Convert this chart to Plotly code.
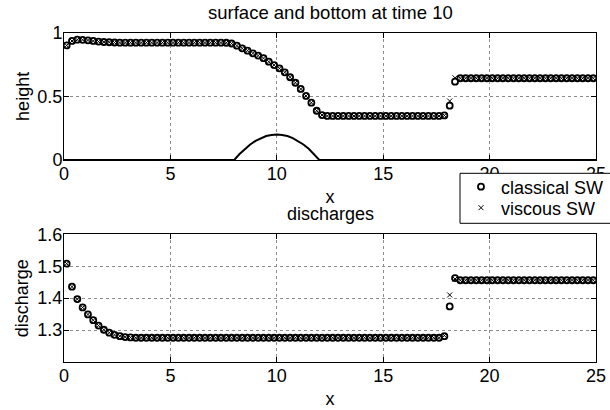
import numpy as np
import plotly.graph_objects as go

# cell centres of the 100-cell mesh on [0, 25]
n_cells = 100
dx = 0.25
x_cells = (np.arange(n_cells) + 0.5) * dx

# free-surface height at t = 10
height_classical = [
    0.900, 0.935, 0.945, 0.944, 0.940, 0.935, 0.930, 0.927, 0.925, 0.923,
    0.922, 0.922, 0.922, 0.922, 0.922, 0.922, 0.922, 0.922, 0.922, 0.922,
    0.922, 0.922, 0.922, 0.922, 0.922, 0.922, 0.922, 0.922, 0.922, 0.922,
    0.921, 0.915, 0.898, 0.877, 0.859, 0.838, 0.820, 0.800, 0.772, 0.746,
    0.720, 0.689, 0.650, 0.607, 0.558, 0.503, 0.450, 0.387, 0.353, 0.346,
    0.346, 0.346, 0.346, 0.346, 0.346, 0.346, 0.346, 0.346, 0.346, 0.346,
    0.346, 0.346, 0.346, 0.346, 0.346, 0.346, 0.346, 0.346, 0.346, 0.346,
    0.346, 0.350, 0.427, 0.615, 0.642, 0.642, 0.642, 0.642, 0.642, 0.642,
    0.642, 0.642, 0.642, 0.642, 0.642, 0.642, 0.642, 0.642, 0.642, 0.642,
    0.642, 0.642, 0.642, 0.642, 0.642, 0.642, 0.642, 0.642, 0.642, 0.642,
]
height_viscous = [
    0.900, 0.935, 0.945, 0.944, 0.940, 0.935, 0.930, 0.927, 0.925, 0.923,
    0.922, 0.922, 0.922, 0.922, 0.922, 0.922, 0.922, 0.922, 0.922, 0.922,
    0.922, 0.922, 0.922, 0.922, 0.922, 0.922, 0.922, 0.922, 0.922, 0.922,
    0.921, 0.915, 0.898, 0.877, 0.859, 0.838, 0.820, 0.800, 0.772, 0.746,
    0.720, 0.689, 0.650, 0.607, 0.558, 0.503, 0.450, 0.387, 0.353, 0.346,
    0.346, 0.346, 0.346, 0.346, 0.346, 0.346, 0.346, 0.346, 0.346, 0.346,
    0.346, 0.346, 0.346, 0.346, 0.346, 0.346, 0.346, 0.346, 0.346, 0.346,
    0.346, 0.350, 0.463, 0.645, 0.642, 0.642, 0.642, 0.642, 0.642, 0.642,
    0.642, 0.642, 0.642, 0.642, 0.642, 0.642, 0.642, 0.642, 0.642, 0.642,
    0.642, 0.642, 0.642, 0.642, 0.642, 0.642, 0.642, 0.642, 0.642, 0.642,
]

# discharge at t = 10
discharge_classical = [
    1.508, 1.436, 1.397, 1.371, 1.349, 1.331, 1.314, 1.301, 1.292, 1.285,
    1.281, 1.278, 1.277, 1.276, 1.276, 1.276, 1.276, 1.276, 1.276, 1.276,
    1.276, 1.276, 1.276, 1.276, 1.276, 1.276, 1.276, 1.276, 1.276, 1.276,
    1.276, 1.276, 1.276, 1.276, 1.276, 1.276, 1.276, 1.276, 1.276, 1.276,
    1.276, 1.276, 1.276, 1.276, 1.276, 1.276, 1.276, 1.276, 1.276, 1.276,
    1.276, 1.276, 1.276, 1.276, 1.276, 1.276, 1.276, 1.276, 1.276, 1.276,
    1.276, 1.276, 1.276, 1.276, 1.276, 1.276, 1.276, 1.276, 1.276, 1.276,
    1.276, 1.281, 1.374, 1.463, 1.456, 1.456, 1.456, 1.456, 1.456, 1.456,
    1.456, 1.456, 1.456, 1.456, 1.456, 1.456, 1.456, 1.456, 1.456, 1.456,
    1.456, 1.456, 1.456, 1.456, 1.456, 1.456, 1.456, 1.456, 1.456, 1.456,
]
discharge_viscous = [
    1.508, 1.436, 1.397, 1.371, 1.349, 1.331, 1.314, 1.301, 1.292, 1.285,
    1.281, 1.278, 1.277, 1.276, 1.276, 1.276, 1.276, 1.276, 1.276, 1.276,
    1.276, 1.276, 1.276, 1.276, 1.276, 1.276, 1.276, 1.276, 1.276, 1.276,
    1.276, 1.276, 1.276, 1.276, 1.276, 1.276, 1.276, 1.276, 1.276, 1.276,
    1.276, 1.276, 1.276, 1.276, 1.276, 1.276, 1.276, 1.276, 1.276, 1.276,
    1.276, 1.276, 1.276, 1.276, 1.276, 1.276, 1.276, 1.276, 1.276, 1.276,
    1.276, 1.276, 1.276, 1.276, 1.276, 1.276, 1.276, 1.276, 1.276, 1.276,
    1.276, 1.283, 1.410, 1.460, 1.456, 1.456, 1.456, 1.456, 1.456, 1.456,
    1.456, 1.456, 1.456, 1.456, 1.456, 1.456, 1.456, 1.456, 1.456, 1.456,
    1.456, 1.456, 1.456, 1.456, 1.456, 1.456, 1.456, 1.456, 1.456, 1.456,
]

# bottom topography (bump between x = 8 and x = 12)
bottom_x = [0, 8, 8.25, 8.5, 8.75, 9, 9.25, 9.5, 9.75, 10,
            10.25, 10.5, 10.75, 11, 11.25, 11.5, 11.75, 12, 25]
bottom_z = [0, 0, 0.047, 0.088, 0.122, 0.150, 0.172, 0.188, 0.197, 0.200,
            0.197, 0.188, 0.172, 0.150, 0.122, 0.088, 0.047, 0, 0]

x_ticks = [0, 5, 10, 15, 20, 25]
height_ticks = [0, 0.5, 1]
height_ticklabels = ["0", "0.5", "1"]
discharge_ticks = [1.3, 1.4, 1.5, 1.6]

FONT = "Liberation Sans, Arial, Helvetica, sans-serif"
FS = 18
W, H = 610, 410
ML, MR = 64, 14
PW = W - ML - MR


def px_x(px):
    """Horizontal pixel -> paper fraction."""
    return (px - ML) / PW


def px_y(py):
    """Vertical pixel (from top) -> paper fraction."""
    return 1 - py / H


circle_marker = dict(symbol="circle-open", size=6, color="black",
                     line=dict(width=1.8, color="black"))
cross_marker = dict(symbol="x-thin-open", size=5, color="black",
                    line=dict(width=1, color="black"))

fig = go.Figure()
fig.add_trace(go.Scatter(x=x_cells, y=height_classical, mode="markers",
                         marker=circle_marker, name="classical SW",
                         legend="legend", xaxis="x", yaxis="y"))
fig.add_trace(go.Scatter(x=x_cells, y=height_viscous, mode="markers",
                         marker=cross_marker, name="viscous SW",
                         legend="legend2", xaxis="x", yaxis="y"))
fig.add_trace(go.Scatter(x=bottom_x, y=bottom_z, mode="lines",
                         line=dict(color="black", width=2), showlegend=False,
                         xaxis="x", yaxis="y"))
fig.add_trace(go.Scatter(x=x_cells, y=discharge_classical, mode="markers",
                         marker=circle_marker, showlegend=False,
                         xaxis="x2", yaxis="y2"))
fig.add_trace(go.Scatter(x=x_cells, y=discharge_viscous, mode="markers",
                         marker=cross_marker, showlegend=False,
                         xaxis="x2", yaxis="y2"))

axis_common = dict(
    showline=True, linecolor="black", linewidth=1, mirror="allticks",
    ticks="inside", ticklen=5, tickcolor="black", tickwidth=1,
    showgrid=True, gridcolor="rgb(140,140,140)", griddash="dot", gridwidth=1,
    zeroline=False, automargin=False,
    tickfont=dict(family=FONT, size=FS, color="black"),
    title_font=dict(family=FONT, size=FS, color="black"),
)
x_common = dict(axis_common, domain=[0, 1], range=[0, 25], tickvals=x_ticks,
                ticklabelstandoff=-3, title=dict(text="x", standoff=7))
y_common = dict(axis_common, ticklabelstandoff=-3)

top_dom = [px_y(160), px_y(32.7)]
bot_dom = [px_y(362), px_y(234.3)]

legend_common = dict(xanchor="left", yanchor="middle", x=px_x(461),
                     bgcolor="rgba(0,0,0,0)", borderwidth=0,
                     font=dict(family=FONT, size=18, color="black"),
                     itemwidth=30)

fig.update_layout(
    width=W, height=H,
    margin=dict(l=ML, r=MR, t=0, b=0, autoexpand=False),
    paper_bgcolor="white", plot_bgcolor="white",
    font=dict(family=FONT, size=FS, color="black"),
    xaxis=dict(x_common, anchor="y"),
    yaxis=dict(y_common, domain=top_dom, anchor="x", range=[0, 1],
               tickvals=height_ticks, ticktext=height_ticklabels,
               title=dict(text="height", standoff=3)),
    xaxis2=dict(x_common, anchor="y2"),
    yaxis2=dict(y_common, domain=bot_dom, anchor="x2", range=[1.2, 1.6],
                tickvals=discharge_ticks,
                title=dict(text="discharge", standoff=4)),
    legend=dict(legend_common, y=px_y(187)),
    legend2=dict(legend_common, y=px_y(208)),
    showlegend=True,
    shapes=[
        # legend frame, running off the right edge of the figure
        dict(type="rect", xref="paper", yref="paper",
             x0=px_x(460), x1=px_x(640), y0=px_y(223.3), y1=px_y(173.3),
             fillcolor="white", line=dict(color="black", width=1),
             layer="above"),
    ],
    annotations=[
        dict(text="surface and bottom at time 10", xref="x domain", x=0.5,
             yref="paper", y=px_y(12.5), xanchor="center", yanchor="middle",
             showarrow=False, font=dict(family=FONT, size=18.5, color="black")),
        dict(text="discharges", xref="x2 domain", x=0.5,
             yref="paper", y=px_y(213.6), xanchor="center", yanchor="middle",
             showarrow=False, font=dict(family=FONT, size=18, color="black")),
    ],
)

fig.write_html("out.html")
